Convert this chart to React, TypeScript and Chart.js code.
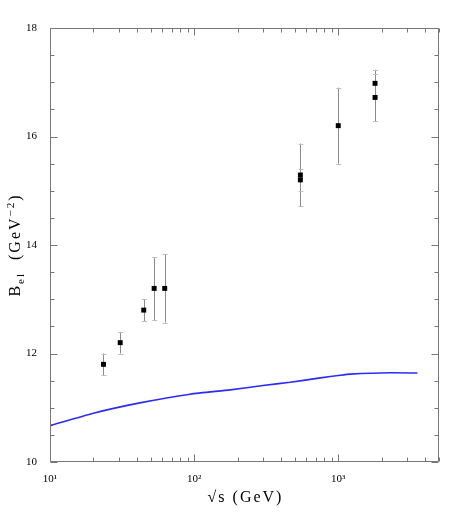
import React, { useEffect, useRef } from "react";
import { Chart, registerables } from "chart.js";

Chart.register(...registerables);

// Measured data points (sqrt(s) in GeV, B_el in GeV^-2, symmetric error)
const pointSqrtS = [23.5, 30.7, 44.7, 52.8, 62.5, 546, 546, 1000, 1800, 1800];
const pointB = [11.8, 12.2, 12.8, 13.2, 13.2, 15.29, 15.2, 16.2, 16.98, 16.72];
const pointErr = [0.2, 0.2, 0.2, 0.58, 0.63, 0.58, 0.2, 0.7, 0.25, 0.44];

// Model curve
const curveSqrtS = [10, 20, 42, 94, 178, 300, 464, 750, 1033, 1212, 2297, 3540];
const curveB = [10.67, 10.9, 11.09, 11.25, 11.33, 11.41, 11.47, 11.55, 11.6, 11.62, 11.645, 11.64];

// Axis settings
const xMin = 10;
const xMax = 5000;
const yMin = 10;
const yMax = 18;
const xMajorTicks = [10, 100, 1000];
const xTickLabels = ["10\u00B9", "10\u00B2", "10\u00B3"];
const yMajorStep = 2;
const yMinorStep = 0.5;

const FONT = "'Liberation Serif', 'Times New Roman', serif";

const framePlugin = {
  id: "frameTicks",
  beforeDatasetsDraw(chart: any) {
    const { ctx, scales } = chart;
    const xs = scales.x;
    const ys = scales.y;
    ctx.save();
    for (let i = 0; i < pointSqrtS.length; i++) {
      const px = xs.getPixelForValue(pointSqrtS[i]);
      const pTop = ys.getPixelForValue(pointB[i] + pointErr[i]);
      const pBot = ys.getPixelForValue(pointB[i] - pointErr[i]);
      ctx.strokeStyle = "#8a8a8a";
      ctx.lineWidth = 1;
      ctx.beginPath();
      ctx.moveTo(Math.round(px) + 0.5, pTop);
      ctx.lineTo(Math.round(px) + 0.5, pBot);
      ctx.stroke();
      ctx.strokeStyle = "#bdbdbd";
      ctx.beginPath();
      ctx.moveTo(px - 2, Math.round(pTop) + 0.5);
      ctx.lineTo(px + 3, Math.round(pTop) + 0.5);
      ctx.moveTo(px - 2, Math.round(pBot) + 0.5);
      ctx.lineTo(px + 3, Math.round(pBot) + 0.5);
      ctx.stroke();
    }
    ctx.restore();
  },
  afterDraw(chart: any) {
    const { ctx, chartArea: a, scales } = chart;
    const xs = scales.x;
    const ys = scales.y;
    ctx.save();
    ctx.strokeStyle = "#777";
    ctx.lineWidth = 1;
    const L = Math.round(a.left) + 0.5;
    const R = Math.round(a.right) - 0.5;
    const T = Math.round(a.top) + 0.5;
    const B = Math.round(a.bottom) - 0.5;
    ctx.beginPath();
    ctx.rect(L, T, R - L, B - T);
    ctx.stroke();
    ctx.beginPath();
    for (let dec = 10; dec < xMax; dec *= 10) {
      for (let m = 1; m < 10; m++) {
        const v = dec * m;
        if (v < xMin || v > xMax) continue;
        const px = Math.round(xs.getPixelForValue(v)) + 0.5;
        const len = m === 1 ? 7 : 4;
        ctx.moveTo(px, B);
        ctx.lineTo(px, B - len);
        ctx.moveTo(px, T);
        ctx.lineTo(px, T + len);
      }
    }
    for (let v = yMin; v <= yMax + 1e-9; v += yMinorStep) {
      const py = Math.round(ys.getPixelForValue(v)) + 0.5;
      const major = Math.abs(v / yMajorStep - Math.round(v / yMajorStep)) < 1e-6;
      const len = major ? 7 : 4;
      ctx.moveTo(L, py);
      ctx.lineTo(L + len, py);
      ctx.moveTo(R, py);
      ctx.lineTo(R - len, py);
    }
    ctx.stroke();

    // axis titles
    ctx.fillStyle = "#000";
    ctx.textBaseline = "alphabetic";
    try { (ctx as any).letterSpacing = "2px"; } catch (e) {}
    ctx.font = `16px ${FONT}`;
    ctx.textAlign = "center";
    const cx = (a.left + a.right) / 2;
    ctx.fillText("\u221As (GeV)", cx + 1, 502);

    ctx.translate(20, (a.top + a.bottom) / 2);
    ctx.rotate(-Math.PI / 2);
    ctx.textAlign = "left";
    const big = `16px ${FONT}`;
    const small = `11px ${FONT}`;
    const parts: [string, string, number][] = [
      ["B", big, 0],
      ["el", small, 4],
      ["  (GeV", big, 0],
      ["\u22122", small, -6],
      [")", big, 0],
    ];
    let total = 0;
    for (const [t, f] of parts) {
      ctx.font = f;
      total += ctx.measureText(t).width;
    }
    let x0 = -total / 2;
    for (const [t, f, dy] of parts) {
      ctx.font = f;
      ctx.fillText(t, x0, dy);
      x0 += ctx.measureText(t).width;
    }
    ctx.restore();
  },
};

export default function App() {
  const ref = useRef<HTMLCanvasElement | null>(null);
  useEffect(() => {
    if (!ref.current) return;
    const chart = new Chart(ref.current, {
      type: "scatter",
      data: {
        datasets: [
          {
            label: "model",
            data: curveSqrtS.map((x, i) => ({ x, y: curveB[i] })),
            showLine: true,
            borderColor: "#2b2bff",
            borderWidth: 1.6,
            pointRadius: 0,
            tension: 0.2,
            order: 2,
          },
          {
            label: "data",
            data: pointSqrtS.map((x, i) => ({ x, y: pointB[i] })),
            pointStyle: "rect",
            pointRadius: 3.5,
            backgroundColor: "#000",
            borderColor: "#000",
            borderWidth: 0,
            order: 1,
          },
        ],
      },
      options: {
        responsive: false,
        animation: false,
        events: [],
        layout: { padding: { left: 0, top: 28, right: 24, bottom: 0 } },
        plugins: { legend: { display: false }, tooltip: { enabled: false } },
        scales: {
          x: {
            type: "logarithmic",
            min: xMin,
            max: xMax,
            grid: { display: false },
            border: { display: false },
            afterBuildTicks: (s: any) => {
              s.ticks = xMajorTicks.map((v) => ({ value: v }));
            },
            afterFit: (s: any) => {
              s.height = 56;
            },
            ticks: {
              autoSkip: false,
              maxRotation: 0,
              padding: 3,
              color: "#000",
              font: { family: FONT, size: 11 },
              callback: (v: any) => {
                const i = xMajorTicks.indexOf(Number(v));
                return i >= 0 ? xTickLabels[i] : "";
              },
            },
          },
          y: {
            type: "linear",
            min: yMin,
            max: yMax,
            grid: { display: false },
            border: { display: false },
            afterFit: (s: any) => {
              s.width = 50;
            },
            ticks: {
              stepSize: yMajorStep,
              padding: 5,
              color: "#000",
              font: { family: FONT, size: 11 },
            },
          },
        },
      },
      plugins: [framePlugin],
    });
    return () => chart.destroy();
  }, []);
  return (
    <div style={{ position: "fixed", left: 0, top: 0, width: 463, height: 518, background: "#fff" }}>
      <canvas ref={ref} width={463} height={518} style={{ display: "block" }} />
    </div>
  );
}
